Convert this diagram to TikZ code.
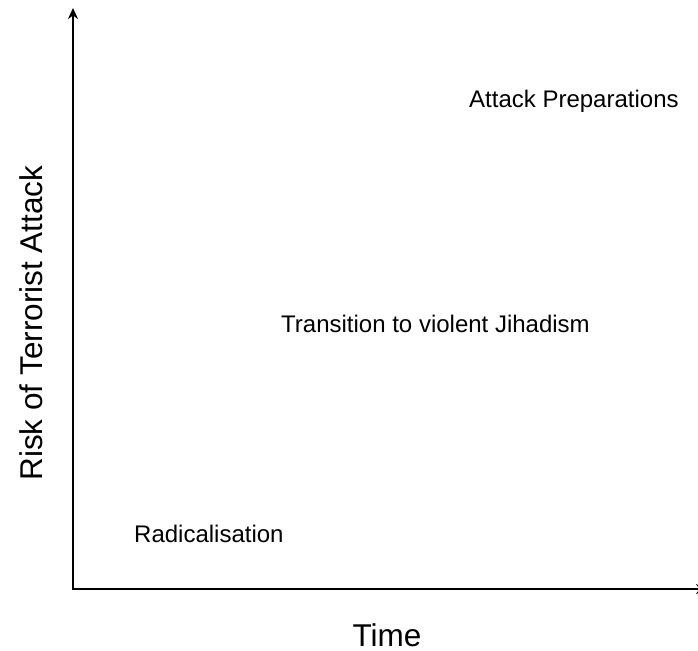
\documentclass[tikz,border=0pt]{standalone}
\usepackage{fontspec}
\setmainfont{Liberation Sans}
\usetikzlibrary{arrows.meta}
\tikzset{
  axis/.style={line width=2.2pt, -{Stealth[length=11pt,width=10pt]}},
  lbl/.style={inner sep=0pt, anchor=base west, font=\fontsize{24}{28}\selectfont},
  axtitle/.style={inner sep=0pt, anchor=base, font=\fontsize{31.5}{36}\selectfont}
}
\begin{document}
\begin{tikzpicture}[x=1pt,y=-1pt]
\useasboundingbox (0,0) rectangle (698,650);
\coordinate (origin) at (73,589);
\coordinate (ytop) at (73,8);
\coordinate (xend) at (707,589);
\draw[axis] ([yshift=-1.1pt]origin) -- (ytop);
\draw[axis] ([xshift=-1.1pt]origin) -- (xend);
\node[lbl] (attack) at (469,107) {Attack Preparations};
\node[lbl] (transition) at (281,332) {Transition to violent Jihadism};
\node[lbl] (radical) at (134,542) {Radicalisation};
\node[axtitle] (time) at (387,646) {Time};
\node[axtitle, rotate=90] (risk) at (42,323) {Risk of Terrorist Attack};
\end{tikzpicture}
\end{document}
